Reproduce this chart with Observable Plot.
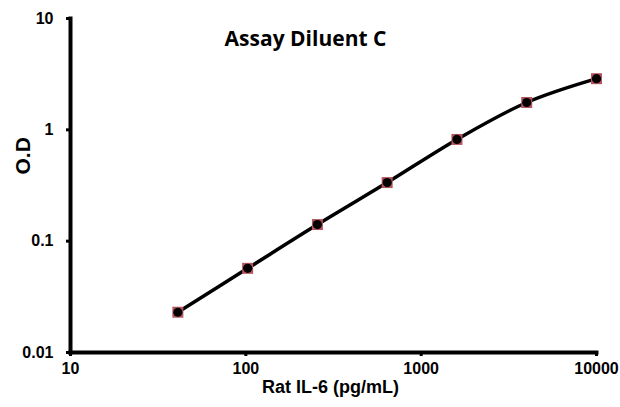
<!DOCTYPE html>
<html><head><meta charset="utf-8">
<script src="https://cdn.jsdelivr.net/npm/d3@7"></script>
<script src="https://cdn.jsdelivr.net/npm/@observablehq/plot@0.6"></script>
<style>
body{margin:0;background:#fff}
</style>
</head><body><div id="c"></div>
<script>
const concentration = [40.96, 102.4, 256, 640, 1600, 4000, 10000];
const od = [0.023, 0.057, 0.141, 0.336, 0.82, 1.76, 2.88];
const xTicks = [10, 100, 1000, 10000];
const yTicks = [0.01, 0.1, 1, 10];
const yTickLabels = ["0.01", "0.1", "1", "10"];
const xDomain = [10, 10000];
const yDomain = [0.01, 10];
const title = "Assay Diluent C";
const xTitle = "Rat IL-6 (pg/mL)";
const yTitle = "O.D";

const data = concentration.map((c, i) => ({c, od: od[i]}));
const font = "Arial, 'Liberation Sans', sans-serif";
const W = 620, H = 407, ML = 70, MR = 24, MT = 18, MB = 55;
const frameW = W - ML - MR, frameH = H - MT - MB;

const chart = Plot.plot({
  width: W, height: H,
  marginLeft: ML, marginRight: MR, marginTop: MT, marginBottom: MB,
  style: {fontFamily: font, background: "#fff", color: "#000"},
  x: {type: "log", domain: xDomain, axis: null},
  y: {type: "log", domain: yDomain, axis: null},
  marks: [
    Plot.ruleX(xTicks, {x: d => d, insetTop: frameH, insetBottom: -4, strokeWidth: 3, stroke: "#000"}),
    Plot.ruleY(yTicks, {y: d => d, insetRight: frameW, insetLeft: -4, strokeWidth: 3, stroke: "#000"}),
    Plot.text(xTicks, {x: d => d, frameAnchor: "bottom", dy: 21, text: d => String(d), fontSize: 16, fontWeight: "bold", fill: "#000"}),
    Plot.text(yTicks, {y: d => d, frameAnchor: "left", dx: -17, textAnchor: "end", text: (d, i) => yTickLabels[i], fontSize: 16, fontWeight: "bold", fill: "#000"}),
    Plot.line(yDomain.map(y => ({x: xDomain[0], y})), {x: "x", y: "y", strokeWidth: 4, stroke: "#000", strokeLinecap: "square"}),
    Plot.line(xDomain.map(x => ({x, y: yDomain[0]})), {x: "x", y: "y", strokeWidth: 4, stroke: "#000", strokeLinecap: "square"}),
    Plot.line(data, {x: "c", y: "od", curve: "catmull-rom", strokeWidth: 3.5, stroke: "#000"}),
    Plot.dot(data, {x: "c", y: "od", symbol: "square", r: 6.2, fill: "#b5545e", stroke: "none"}),
    Plot.dot(data, {x: "c", y: "od", r: 4.6, fill: "#000", stroke: "none"}),
    Plot.text([title], {frameAnchor: "top", dx: -28, dy: 13, fontSize: 21, fontWeight: "bold", fontFamily: "'Open Sans', sans-serif", fill: "#000"}),
    Plot.text([xTitle], {frameAnchor: "bottom", dx: -3, dy: 40, fontSize: 18, fontWeight: "bold", fill: "#000"}),
    Plot.text([yTitle], {frameAnchor: "left", dx: -47, dy: -11, rotate: -90, fontSize: 21, fontWeight: "bold", fill: "#000"})
  ]
});
document.getElementById("c").appendChild(chart);
</script>
</body></html>
